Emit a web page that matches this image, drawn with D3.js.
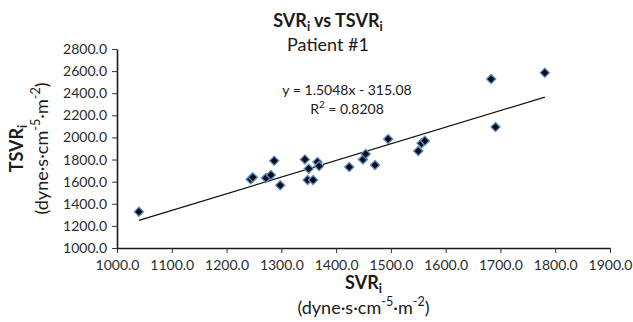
<!DOCTYPE html>
<html lang="en">
<head>
    <meta charset="UTF-8">
    <title>SVRi vs TSVRi</title>
    <script src="https://cdn.jsdelivr.net/npm/d3@7"></script>
    <style>
        body {
            margin: 0;
            background: #fff;
        }

        #chart svg {
            display: block;
            font-family: Lato, "Open Sans", sans-serif;
        }
    </style>
</head>
<body>
<div id="chart"></div>

<script>
    // SVRi (x) and TSVRi (y) for each measurement
    const svri = [1040, 1244, 1248, 1272, 1281, 1287, 1298, 1343, 1348, 1350, 1358, 1366,
        1369, 1424, 1449, 1454, 1471, 1495, 1550, 1556, 1562, 1683, 1691, 1781]
    const tsvri = [1328, 1621, 1639, 1633, 1660, 1789, 1567, 1801, 1615, 1717, 1615, 1778,
        1741, 1732, 1801, 1850, 1750, 1985, 1877, 1947, 1970, 2528, 2094, 2585]

    const xTicks = [1000, 1100, 1200, 1300, 1400, 1500, 1600, 1700, 1800, 1900]
    const yTicks = [1000, 1200, 1400, 1600, 1800, 2000, 2200, 2400, 2600, 2800]

    // trendline y = slope * x + intercept
    const slope = 1.5048
    const intercept = -315.08
    const rSquared = 0.8208

    const width = 633
    const height = 322
    const margin = {top: 49, right: 23, bottom: 74, left: 117}

    const points = svri.map((x, i) => ({x: x, y: tsvri[i]}))

    const svg = d3.select("#chart").append("svg")
        .attr("width", width)
        .attr("height", height)

    const x = d3.scaleLinear()
        .domain([xTicks[0], xTicks[xTicks.length - 1]])
        .range([margin.left, width - margin.right])

    const y = d3.scaleLinear()
        .domain([yTicks[0], yTicks[yTicks.length - 1]])
        .range([height - margin.bottom, margin.top])

    const fmt = d3.format(".1f")

    // axes
    const xAxis = svg.append("g")
        .attr("transform", `translate(0, ${height - margin.bottom})`)
        .call(d3.axisBottom(x).tickValues(xTicks).tickFormat(fmt).tickSize(5).tickPadding(7).tickSizeOuter(0))

    const yAxis = svg.append("g")
        .attr("transform", `translate(${margin.left}, 0)`)
        .call(d3.axisLeft(y).tickValues(yTicks).tickFormat(fmt).tickSize(5).tickPadding(5).tickSizeOuter(0))

    for (const ax of [xAxis, yAxis]) {
        ax.select(".domain").attr("stroke", "#1a1a1a").attr("stroke-width", 1.6)
        ax.selectAll(".tick line").attr("stroke", "#333")
        ax.selectAll(".tick text")
            .attr("fill", "#2b2b2b")
            .style("font-size", "14px")
            .style("font-family", "Lato, 'Open Sans', sans-serif")
    }

    // trendline over the data range
    const xExtent = d3.extent(svri)
    svg.append("line")
        .attr("x1", x(xExtent[0]))
        .attr("y1", y(slope * xExtent[0] + intercept))
        .attr("x2", x(xExtent[1]))
        .attr("y2", y(slope * xExtent[1] + intercept))
        .attr("stroke", "#111")
        .attr("stroke-width", 1.2)

    // diamond markers
    const diamond = d3.symbol().type(d3.symbolSquare).size(42)
    svg.append("g")
        .selectAll("path")
        .data(points)
        .enter().append("path")
        .attr("d", diamond)
        .attr("transform", (d) => `translate(${x(d.x)}, ${y(d.y)}) rotate(45)`)
        .attr("fill", "#0d0d0d")
        .attr("stroke", "#5b8fd0")
        .attr("stroke-width", 1.3)

    // helper: text with sub / superscripts, parts = [[text, "sub"|"sup"|null], ...]
    function richText(sel, parts) {
        let shift = 0
        parts.forEach(([t, kind]) => {
            const ts = sel.append("tspan").text(t)
            let target = 0
            if (kind === "sub") target = 0.22
            if (kind === "sup") target = -0.45
            if (kind) ts.style("font-size", "70%")
            const dyEm = target - shift
            if (dyEm !== 0) {
                // em of the tspan itself; scale for 70% font size
                ts.attr("dy", `${(kind ? dyEm / 0.7 : dyEm).toFixed(3)}em`)
            }
            shift = target
        })
        return sel
    }

    const unitParts = [["(dyne·s·cm", null], ["-5", "sup"], ["·m", null], ["-2", "sup"], [")", null]]

    // title
    const title = svg.append("text")
        .attr("x", 328)
        .attr("y", 27)
        .attr("text-anchor", "middle")
        .attr("fill", "#1a1a1a")
        .style("font-size", "18px")
        .style("font-weight", "bold")
    richText(title, [["SVR", null], ["i", "sub"], [" vs TSVR", null], ["i", "sub"]])

    svg.append("text")
        .attr("x", 328)
        .attr("y", 51)
        .attr("text-anchor", "middle")
        .attr("fill", "#1a1a1a")
        .style("font-size", "18px")
        .text("Patient #1")

    // equation label
    svg.append("text")
        .attr("x", 347)
        .attr("y", 95)
        .attr("text-anchor", "middle")
        .attr("fill", "#1a1a1a")
        .style("font-size", "14px")
        .text(`y = ${slope}x - ${Math.abs(intercept)}`)

    const r2 = svg.append("text")
        .attr("x", 347)
        .attr("y", 114)
        .attr("text-anchor", "middle")
        .attr("fill", "#1a1a1a")
        .style("font-size", "14px")
    richText(r2, [["R", null], ["2", "sup"], [` = ${rSquared}`, null]])

    // x axis title
    const plotMidX = (margin.left + width - margin.right) / 2
    const xTitle = svg.append("text")
        .attr("x", plotMidX)
        .attr("y", 289)
        .attr("text-anchor", "middle")
        .attr("fill", "#1a1a1a")
        .style("font-size", "18px")
        .style("font-weight", "bold")
    richText(xTitle, [["SVR", null], ["i", "sub"]])

    const xUnits = svg.append("text")
        .attr("x", plotMidX)
        .attr("y", 314)
        .attr("text-anchor", "middle")
        .attr("fill", "#1a1a1a")
        .style("font-size", "18px")
    richText(xUnits, unitParts)

    // y axis title (rotated)
    const plotMidY = (margin.top + height - margin.bottom) / 2
    const yTitle = svg.append("text")
        .attr("transform", `translate(23, ${plotMidY}) rotate(-90)`)
        .attr("text-anchor", "middle")
        .attr("fill", "#1a1a1a")
        .style("font-size", "18px")
        .style("font-weight", "bold")
    richText(yTitle, [["TSVR", null], ["i", "sub"]])

    const yUnits = svg.append("text")
        .attr("transform", `translate(48, ${plotMidY}) rotate(-90)`)
        .attr("text-anchor", "middle")
        .attr("fill", "#1a1a1a")
        .style("font-size", "18px")
    richText(yUnits, unitParts)
</script>
</body>
</html>
